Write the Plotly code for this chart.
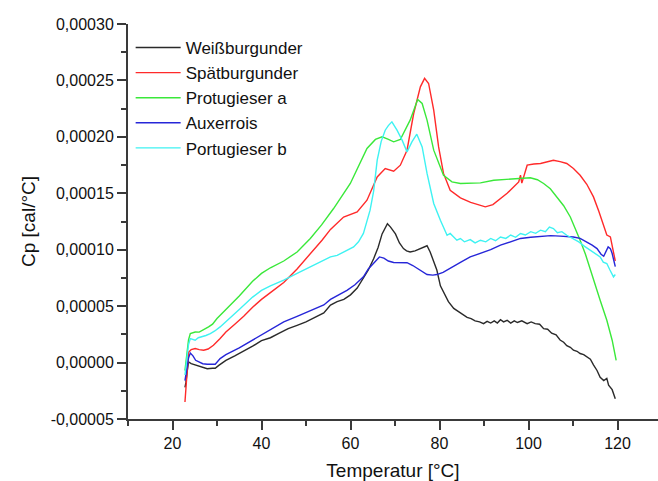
import plotly.graph_objects as go

# ---------------- data (values in 1e-5 cal/°C) ----------------
weiss_x = [22.8, 23.0, 23.3, 23.6, 24.2, 25.0, 25.5, 26.5, 27.8, 29.0, 29.6, 30.4, 32, 34, 36, 38, 40, 42, 44, 46, 48, 50,
           52, 54, 55.5, 57, 58.5, 60, 61.5, 62.9, 64, 65.2, 66.2, 67.1, 67.8, 68.3, 69.0, 70.1, 71.0, 71.9, 72.6, 73.4,
           74.5, 75.7, 76.5, 77.2, 77.9, 78.6, 79.4, 80.2, 80.9, 82.0, 83.2, 84.0, 84.7, 85.5, 86.2, 87.1, 88.0, 89.0,
           89.9, 90.7, 91.5, 92.3, 93, 93.7, 94.4, 95.2, 96, 96.8, 97.5, 98.5, 99.7, 100.6, 101.5, 102.5, 103.4, 104.3,
           105.2, 106.2, 107.1, 107.9, 108.6, 109.4, 110.1, 110.9, 111.6, 112.4, 113.1, 113.9, 114.6, 115.4, 116.1,
           116.9, 117.6, 118.0, 118.8, 119.5]
weiss_y = [-2.2, -1.8, -0.8, 0.05, -0.1, -0.2, -0.25, -0.4, -0.55, -0.5, -0.5, -0.25, 0.2, 0.6, 1.0, 1.45, 1.95, 2.2, 2.6,
           3.0, 3.3, 3.6, 4.0, 4.4, 5.1, 5.4, 5.6, 6.0, 6.6, 7.45, 8.2, 9.2, 10.2, 11.4, 12.0, 12.3, 12.0, 11.4, 10.6, 10.1,
           9.9, 9.8, 9.9, 10.1, 10.2, 10.35, 9.8, 9.0, 8.2, 6.8, 6.26, 5.4, 4.8, 4.6, 4.4, 4.2, 4.0, 3.9, 3.7, 3.6,
           3.45, 3.65, 3.5, 3.7, 3.5, 3.8, 3.6, 3.75, 3.5, 3.7, 3.55, 3.7, 3.45, 3.6, 3.45, 3.4, 3.0, 2.95, 2.6, 2.45,
           2.0, 1.8, 1.5, 1.35, 1.1, 1.0, 0.8, 0.7, 0.5, 0.3, -0.2, -0.7, -1.3, -1.6, -1.4, -2.0, -2.4, -3.2]

spaet_x = [22.8, 23.1, 23.4, 23.6, 24.2, 25.1, 26.0, 27.0, 28.0, 29.2, 30.7, 32, 34, 36, 38, 40, 42, 45, 48, 50, 52, 53.6,
           55.5, 58.45, 61.5, 63.7, 66.0, 67.8, 69.7, 71.2, 72.7, 74.2, 75.7, 76.65, 77.55, 78.7, 79.8, 80.9, 82.4, 84.7,
           87.0, 90.3, 92.0, 93.7, 95.2, 96.7, 97.8, 98.2, 98.5, 99.7, 101.2, 102.7, 104.2, 105.6, 107.1, 108.6, 110.1,
           111.6, 113.1, 114.6, 115.8, 116.9, 117.6, 118.4, 119.0, 119.5]
spaet_y = [-3.5, -2.0, 0.0, 0.9, 1.15, 1.24, 1.15, 1.09, 1.2, 1.53, 2.13, 2.7, 3.4, 4.1, 4.9, 5.6, 6.2, 7.1, 8.3, 9.2, 10.1,
           10.84, 11.8, 12.9, 13.35, 14.39, 16.45, 17.2, 16.96, 17.49, 18.82, 22.07, 24.43, 25.18, 24.73, 22.37, 19.11,
           16.76, 15.27, 14.6, 14.2, 13.8, 14.0, 14.54, 15.0, 15.57, 16.0, 16.6, 15.9, 17.49, 17.6, 17.64, 17.8, 17.93,
           17.8, 17.64, 17.2, 16.6, 15.8, 14.68, 13.4, 12.0, 11.3, 11.13, 10.0, 9.0]

protu_x = [22.8, 23.2, 23.6, 24.0, 24.6, 25.1, 26.0, 27.0, 28.1, 29.0, 30.0, 32, 35, 38, 40, 42, 45, 48, 50.97, 53.5,
           56.2, 59.96, 63.7, 65.6, 67.1, 68.4, 69.7, 71.2, 73.4, 75.1, 76.1, 77.2, 78.7, 80.9, 82.8, 84.7, 86.5, 89.2,
           92.2, 95.2, 98.2, 100.4, 102.0, 103.4, 104.9, 106.4, 107.9, 109.4, 110.5, 111.6, 112.8, 113.9, 115.0, 116.1,
           117.6, 118.8, 119.7]
protu_y = [-0.7, 0.8, 2.0, 2.57, 2.65, 2.71, 2.7, 2.9, 3.16, 3.4, 3.9, 4.7, 5.9, 7.2, 7.9, 8.4, 9.0, 9.8, 10.99, 12.2,
           13.65, 15.87, 18.97, 19.77, 20.0, 19.8, 19.56, 19.77, 21.48, 23.32, 22.96, 21.48, 18.82, 16.6, 16.01, 15.87,
           15.9, 15.92, 16.16, 16.25, 16.37, 16.37, 16.2, 15.87, 15.4, 14.68, 13.9, 12.9, 11.9, 10.84, 9.6, 8.18, 6.9,
           5.52, 3.75, 1.98, 0.2]

auxer_x = [22.8, 23.2, 23.6, 24.0, 24.6, 25.2, 25.9, 26.8, 27.8, 28.8, 29.6, 30.7, 32, 35, 38, 40, 42, 45, 48, 50, 52, 54,
           55.5, 57, 59.2, 61, 62.9, 64, 65.2, 66.5, 67.5, 68.5, 69.7, 71, 72.7, 74, 75.5, 77.2, 78.5, 79.4, 80.8, 82.4,
           84.7, 86.9, 89.2, 91.5, 93.7, 96, 98.2, 100.5, 102.7, 105, 107.1, 110.1, 111.6, 113.1, 114.3, 115.4, 116.3,
           116.9, 117.4, 117.9, 118.4, 118.8, 119.2, 119.5]
auxer_y = [-1.6, -0.5, 0.4, 0.85, 0.6, 0.2, 0.05, -0.1, -0.15, -0.15, -0.15, 0.35, 0.7, 1.3, 2.0, 2.5, 2.9, 3.6, 4.1, 4.45,
           4.8, 5.1, 5.6, 5.9, 6.4, 6.9, 7.6, 8.3, 8.8, 9.36, 9.25, 9.0, 8.87, 8.85, 8.85, 8.6, 8.2, 7.8, 7.75, 7.8, 8.0,
           8.33, 8.87, 9.36, 9.66, 10.0, 10.4, 10.7, 11.0, 11.1, 11.2, 11.25, 11.2, 11.13, 11.0, 10.7, 10.4, 10.1, 9.6,
           9.42, 9.8, 10.25, 10.1, 9.66, 9.0, 8.5]

portu_x = [22.8, 23.2, 23.6, 24.0, 24.5, 25.1, 25.8, 26.6, 27.5, 28.5, 29.5, 30.7, 32, 35, 38, 40, 42, 45, 48, 50, 53,
           55.5, 57, 58.5, 60.7, 61.8, 62.9, 63.6, 64.4, 65.2, 66.0, 66.9, 67.8, 68.5, 69.3, 70.45, 71.6, 72.7, 73.8,
           74.9, 76.1, 77.2, 78.7, 80.2, 81.7, 82.4, 83.9, 84.7, 85.6, 86.9, 88.0, 89.2, 90.4, 91.5, 92.6, 93.7, 94.9,
           96.0, 97.1, 98.2, 99.3, 100.5, 101.6, 102.7, 103.8, 104.7, 105.6, 106.5, 107.5, 108.6, 109.9, 111.3, 112.6,
           113.9, 115.0, 116.1, 116.8, 117.6, 118.3, 119.1, 119.5]
portu_y = [-1.1, 0.5, 1.6, 2.13, 2.05, 1.98, 2.2, 2.27, 2.4, 2.57, 2.8, 3.16, 3.6, 4.7, 5.8, 6.4, 6.8, 7.3, 7.9, 8.3, 8.9,
           9.36, 9.5, 9.8, 10.25, 10.7, 11.44, 12.4, 13.5, 15.2, 17.93, 19.6, 20.59, 21.0, 21.33, 20.59, 19.71, 18.67,
           19.56, 20.24, 19.11, 16.76, 14.1, 12.61, 11.28, 11.44, 10.84, 10.99, 10.7, 10.9, 10.6, 10.84, 10.7, 11.0,
           10.8, 11.13, 11.0, 11.3, 11.1, 11.44, 11.3, 11.6, 11.45, 11.73, 11.6, 12.0, 11.88, 11.5, 11.6, 11.28, 11.0,
           10.69, 10.3, 9.96, 9.7, 9.36, 8.9, 8.78, 8.2, 7.59, 7.8]

series_names = ["Weißburgunder", "Spätburgunder", "Protugieser a", "Auxerrois", "Portugieser b"]
series_x = [weiss_x, spaet_x, protu_x, auxer_x, portu_x]
series_y = [weiss_y, spaet_y, protu_y, auxer_y, portu_y]
series_colors = ["#2a2a2a", "#ff2a2a", "#3ae83a", "#2626d8", "#3ef2f2"]

y_tickvals = [-0.00005, 0.0, 0.00005, 0.00010, 0.00015, 0.00020, 0.00025, 0.00030]
y_ticktext = ["-0,00005", "0,00000", "0,00005", "0,00010", "0,00015", "0,00020", "0,00025", "0,00030"]
x_tickvals = [20, 40, 60, 80, 100, 120]
x_ticktext = ["20", "40", "60", "80", "100", "120"]

FONT = "Liberation Sans, Arial, sans-serif"
AXC = "#3a3a3a"

fig = go.Figure()
for name, xs, ys, col in zip(series_names, series_x, series_y, series_colors):
    fig.add_trace(go.Scatter(x=xs, y=[v * 1e-5 for v in ys], mode="lines", name=name,
                             line=dict(color=col, width=1.4)))

fig.update_layout(
    width=658, height=481,
    margin=dict(l=128, r=0, t=24, b=62),
    paper_bgcolor="white", plot_bgcolor="white",
    font=dict(family=FONT, color="#111111", size=16),
    showlegend=True,
    legend=dict(x=0.005, y=0.985, xanchor="left", yanchor="top", bgcolor="rgba(0,0,0,0)",
                font=dict(size=17, family=FONT, color="#111111"), tracegroupgap=0, itemwidth=45),
    xaxis=dict(range=[10, 129.1], showline=True, linecolor=AXC, linewidth=2, mirror=False,
               showgrid=False, zeroline=False, ticks="outside", ticklen=9, tickwidth=2, tickcolor=AXC,
               tickvals=x_tickvals, ticktext=x_ticktext, tickfont=dict(size=16, family=FONT, color="#111111"),
               minor=dict(dtick=10, tick0=0, ticks="outside", ticklen=5, tickwidth=2, tickcolor=AXC),
               title=dict(text="Temperatur [°C]", font=dict(size=19, family=FONT, color="#111111"), standoff=14)),
    yaxis=dict(range=[-0.00005, 0.0003], showline=True, linecolor=AXC, linewidth=2, mirror=False,
               showgrid=False, zeroline=False, ticks="outside", ticklen=9, tickwidth=2, tickcolor=AXC,
               tickvals=y_tickvals, ticktext=y_ticktext, tickfont=dict(size=16, family=FONT, color="#111111"),
               minor=dict(dtick=0.000025, tick0=0, ticks="outside", ticklen=5, tickwidth=2, tickcolor=AXC),
               title=dict(text="Cp [cal/°C]", font=dict(size=19, family=FONT, color="#111111"), standoff=10)),
)

fig.write_html("out.html")
